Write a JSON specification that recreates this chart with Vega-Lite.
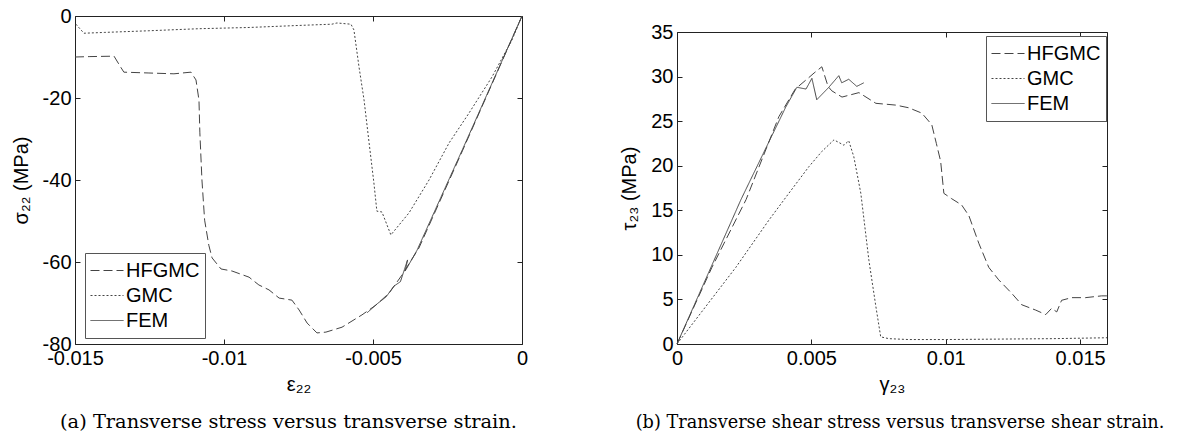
{
  "$schema": "https://vega.github.io/schema/vega-lite/v6.json",
  "background": "white",
  "padding": {"left": 11, "top": 6, "right": 0, "bottom": 0},
  "config": {
    "font": "Liberation Sans",
    "view": {"stroke": null},
    "axis": {
      "domainColor": "#222", "tickColor": "#222", "domainWidth": 1, "tickWidth": 1,
      "tickSize": -5, "labelPadding": 9, "grid": false,
      "labelFont": "Liberation Sans", "labelFontSize": 20, "labelColor": "#000",
      "labelFlush": false, "labelOverlap": false,
      "titleFont": "Liberation Sans", "titleFontSize": 20, "titleFontWeight": "normal", "titleColor": "#000"
    },
    "legend": {
      "title": null, "orient": "none", "direction": "vertical",
      "symbolType": "stroke", "symbolSize": 1089, "symbolStrokeColor": "#444", "symbolStrokeWidth": 1,
      "labelFont": "Liberation Sans", "labelFontSize": 20, "labelColor": "#000", "labelOffset": 2,
      "padding": 5, "rowPadding": 0, "clipHeight": 25, "strokeColor": "#555", "fillColor": "white"
    }
  },
  "datasets": {
    "a": [
      {"model": "HFGMC", "i": 1, "x": -0.0150, "y": -10.0},
      {"model": "HFGMC", "i": 2, "x": -0.0145, "y": -9.9},
      {"model": "HFGMC", "i": 3, "x": -0.01369, "y": -9.8},
      {"model": "HFGMC", "i": 4, "x": -0.01349, "y": -12.2},
      {"model": "HFGMC", "i": 5, "x": -0.01336, "y": -13.7},
      {"model": "HFGMC", "i": 6, "x": -0.01252, "y": -13.9},
      {"model": "HFGMC", "i": 7, "x": -0.01168, "y": -14.1},
      {"model": "HFGMC", "i": 8, "x": -0.01111, "y": -13.7},
      {"model": "HFGMC", "i": 9, "x": -0.01094, "y": -15.6},
      {"model": "HFGMC", "i": 10, "x": -0.01084, "y": -20.5},
      {"model": "HFGMC", "i": 11, "x": -0.01081, "y": -28.5},
      {"model": "HFGMC", "i": 12, "x": -0.01074, "y": -40.0},
      {"model": "HFGMC", "i": 13, "x": -0.01065, "y": -49.8},
      {"model": "HFGMC", "i": 14, "x": -0.01051, "y": -55.9},
      {"model": "HFGMC", "i": 15, "x": -0.01040, "y": -59.0},
      {"model": "HFGMC", "i": 16, "x": -0.01010, "y": -61.7},
      {"model": "HFGMC", "i": 17, "x": -0.00973, "y": -62.2},
      {"model": "HFGMC", "i": 18, "x": -0.00916, "y": -63.7},
      {"model": "HFGMC", "i": 19, "x": -0.00883, "y": -65.6},
      {"model": "HFGMC", "i": 20, "x": -0.00849, "y": -66.8},
      {"model": "HFGMC", "i": 21, "x": -0.00815, "y": -68.8},
      {"model": "HFGMC", "i": 22, "x": -0.00772, "y": -69.3},
      {"model": "HFGMC", "i": 23, "x": -0.00748, "y": -71.7},
      {"model": "HFGMC", "i": 24, "x": -0.00721, "y": -74.9},
      {"model": "HFGMC", "i": 25, "x": -0.00688, "y": -77.3},
      {"model": "HFGMC", "i": 26, "x": -0.00658, "y": -77.1},
      {"model": "HFGMC", "i": 27, "x": -0.00604, "y": -75.9},
      {"model": "HFGMC", "i": 28, "x": -0.00537, "y": -72.9},
      {"model": "HFGMC", "i": 29, "x": -0.00490, "y": -70.5},
      {"model": "HFGMC", "i": 30, "x": -0.00446, "y": -67.6},
      {"model": "HFGMC", "i": 31, "x": -0.00403, "y": -63.2},
      {"model": "HFGMC", "i": 32, "x": -0.00346, "y": -56.6},
      {"model": "HFGMC", "i": 33, "x": -0.00200, "y": -32.9},
      {"model": "HFGMC", "i": 34, "x": 0.0, "y": 0.0},
      {"model": "GMC", "i": 1, "x": -0.01497, "y": -2.0},
      {"model": "GMC", "i": 2, "x": -0.01470, "y": -4.2},
      {"model": "GMC", "i": 3, "x": -0.01400, "y": -4.0},
      {"model": "GMC", "i": 4, "x": -0.01252, "y": -3.6},
      {"model": "GMC", "i": 5, "x": -0.01084, "y": -3.1},
      {"model": "GMC", "i": 6, "x": -0.00916, "y": -2.8},
      {"model": "GMC", "i": 7, "x": -0.00748, "y": -2.3},
      {"model": "GMC", "i": 8, "x": -0.00638, "y": -2.0},
      {"model": "GMC", "i": 9, "x": -0.00621, "y": -1.7},
      {"model": "GMC", "i": 10, "x": -0.00574, "y": -2.0},
      {"model": "GMC", "i": 11, "x": -0.00564, "y": -3.4},
      {"model": "GMC", "i": 12, "x": -0.00547, "y": -12.4},
      {"model": "GMC", "i": 13, "x": -0.00530, "y": -20.5},
      {"model": "GMC", "i": 14, "x": -0.00513, "y": -31.0},
      {"model": "GMC", "i": 15, "x": -0.00497, "y": -40.7},
      {"model": "GMC", "i": 16, "x": -0.00487, "y": -47.6},
      {"model": "GMC", "i": 17, "x": -0.00470, "y": -47.8},
      {"model": "GMC", "i": 18, "x": -0.00440, "y": -53.4},
      {"model": "GMC", "i": 19, "x": -0.00379, "y": -48.0},
      {"model": "GMC", "i": 20, "x": -0.00312, "y": -40.0},
      {"model": "GMC", "i": 21, "x": -0.00245, "y": -31.0},
      {"model": "GMC", "i": 22, "x": -0.00178, "y": -23.7},
      {"model": "GMC", "i": 23, "x": -0.00101, "y": -14.9},
      {"model": "GMC", "i": 24, "x": -0.00034, "y": -5.9},
      {"model": "GMC", "i": 25, "x": 0.0, "y": 0.0},
      {"model": "FEM", "i": 1, "x": 0.0, "y": 0.0},
      {"model": "FEM", "i": 2, "x": -0.00200, "y": -32.6},
      {"model": "FEM", "i": 3, "x": -0.00352, "y": -57.1},
      {"model": "FEM", "i": 4, "x": -0.00392, "y": -62.2},
      {"model": "FEM", "i": 5, "x": -0.00384, "y": -59.5},
      {"model": "FEM", "i": 6, "x": -0.00408, "y": -64.8},
      {"model": "FEM", "i": 7, "x": -0.00430, "y": -65.9},
      {"model": "FEM", "i": 8, "x": -0.00456, "y": -68.5},
      {"model": "FEM", "i": 9, "x": -0.00486, "y": -70.2},
      {"model": "FEM", "i": 10, "x": -0.00520, "y": -72.4}
    ],
    "b": [
      {"model": "HFGMC", "i": 1, "x": 0.0, "y": 0.0},
      {"model": "HFGMC", "i": 2, "x": 0.00130, "y": 8.6},
      {"model": "HFGMC", "i": 3, "x": 0.00257, "y": 16.2},
      {"model": "HFGMC", "i": 4, "x": 0.00379, "y": 25.5},
      {"model": "HFGMC", "i": 5, "x": 0.00440, "y": 28.6},
      {"model": "HFGMC", "i": 6, "x": 0.00491, "y": 29.9},
      {"model": "HFGMC", "i": 7, "x": 0.00510, "y": 30.4},
      {"model": "HFGMC", "i": 8, "x": 0.00539, "y": 31.1},
      {"model": "HFGMC", "i": 9, "x": 0.00562, "y": 28.9},
      {"model": "HFGMC", "i": 10, "x": 0.00576, "y": 28.4},
      {"model": "HFGMC", "i": 11, "x": 0.00614, "y": 27.7},
      {"model": "HFGMC", "i": 12, "x": 0.00677, "y": 28.2},
      {"model": "HFGMC", "i": 13, "x": 0.00740, "y": 27.0},
      {"model": "HFGMC", "i": 14, "x": 0.00814, "y": 26.8},
      {"model": "HFGMC", "i": 15, "x": 0.00862, "y": 26.5},
      {"model": "HFGMC", "i": 16, "x": 0.00911, "y": 25.9},
      {"model": "HFGMC", "i": 17, "x": 0.00948, "y": 24.6},
      {"model": "HFGMC", "i": 18, "x": 0.00965, "y": 22.5},
      {"model": "HFGMC", "i": 19, "x": 0.00981, "y": 20.5},
      {"model": "HFGMC", "i": 20, "x": 0.00993, "y": 16.9},
      {"model": "HFGMC", "i": 21, "x": 0.01022, "y": 16.3},
      {"model": "HFGMC", "i": 22, "x": 0.01059, "y": 15.6},
      {"model": "HFGMC", "i": 23, "x": 0.01086, "y": 14.4},
      {"model": "HFGMC", "i": 24, "x": 0.01123, "y": 11.3},
      {"model": "HFGMC", "i": 25, "x": 0.01160, "y": 8.6},
      {"model": "HFGMC", "i": 26, "x": 0.01197, "y": 7.2},
      {"model": "HFGMC", "i": 27, "x": 0.01245, "y": 5.7},
      {"model": "HFGMC", "i": 28, "x": 0.01283, "y": 4.4},
      {"model": "HFGMC", "i": 29, "x": 0.01335, "y": 3.8},
      {"model": "HFGMC", "i": 30, "x": 0.01372, "y": 3.3},
      {"model": "HFGMC", "i": 31, "x": 0.01394, "y": 4.0},
      {"model": "HFGMC", "i": 32, "x": 0.01413, "y": 3.6},
      {"model": "HFGMC", "i": 33, "x": 0.01431, "y": 4.9},
      {"model": "HFGMC", "i": 34, "x": 0.01468, "y": 5.2},
      {"model": "HFGMC", "i": 35, "x": 0.01520, "y": 5.2},
      {"model": "HFGMC", "i": 36, "x": 0.01580, "y": 5.4},
      {"model": "HFGMC", "i": 37, "x": 0.01600, "y": 5.4},
      {"model": "GMC", "i": 1, "x": 0.0, "y": 0.0},
      {"model": "GMC", "i": 2, "x": 0.00219, "y": 8.6},
      {"model": "GMC", "i": 3, "x": 0.00342, "y": 13.9},
      {"model": "GMC", "i": 4, "x": 0.00416, "y": 16.9},
      {"model": "GMC", "i": 5, "x": 0.00491, "y": 19.9},
      {"model": "GMC", "i": 6, "x": 0.00539, "y": 21.6},
      {"model": "GMC", "i": 7, "x": 0.00584, "y": 22.9},
      {"model": "GMC", "i": 8, "x": 0.00621, "y": 22.3},
      {"model": "GMC", "i": 9, "x": 0.00639, "y": 22.8},
      {"model": "GMC", "i": 10, "x": 0.00658, "y": 21.0},
      {"model": "GMC", "i": 11, "x": 0.00684, "y": 16.9},
      {"model": "GMC", "i": 12, "x": 0.00714, "y": 9.4},
      {"model": "GMC", "i": 13, "x": 0.00740, "y": 4.2},
      {"model": "GMC", "i": 14, "x": 0.00758, "y": 0.8},
      {"model": "GMC", "i": 15, "x": 0.00788, "y": 0.6},
      {"model": "GMC", "i": 16, "x": 0.00862, "y": 0.5},
      {"model": "GMC", "i": 17, "x": 0.01000, "y": 0.5},
      {"model": "GMC", "i": 18, "x": 0.01200, "y": 0.55},
      {"model": "GMC", "i": 19, "x": 0.01400, "y": 0.6},
      {"model": "GMC", "i": 20, "x": 0.01600, "y": 0.7},
      {"model": "FEM", "i": 1, "x": 0.0, "y": 0.0},
      {"model": "FEM", "i": 2, "x": 0.00238, "y": 16.2},
      {"model": "FEM", "i": 3, "x": 0.00405, "y": 26.6},
      {"model": "FEM", "i": 4, "x": 0.00446, "y": 28.8},
      {"model": "FEM", "i": 5, "x": 0.00480, "y": 28.6},
      {"model": "FEM", "i": 6, "x": 0.00502, "y": 29.8},
      {"model": "FEM", "i": 7, "x": 0.00520, "y": 27.4},
      {"model": "FEM", "i": 8, "x": 0.00565, "y": 28.8},
      {"model": "FEM", "i": 9, "x": 0.00602, "y": 30.1},
      {"model": "FEM", "i": 10, "x": 0.00613, "y": 29.3},
      {"model": "FEM", "i": 11, "x": 0.00639, "y": 29.7},
      {"model": "FEM", "i": 12, "x": 0.00669, "y": 28.9},
      {"model": "FEM", "i": 13, "x": 0.00695, "y": 29.3}
    ]
  },
  "bounds": "flush",
  "spacing": 155,
  "resolve": {"scale": {"strokeDash": "independent"}, "legend": {"strokeDash": "independent"}},
  "hconcat": [
    {
      "width": 447,
      "height": 328,
      "data": {"name": "a"},
      "title": {
        "text": "(a)  Transverse stress versus transverse strain.",
        "orient": "bottom", "anchor": "middle", "frame": "group", "dx": -10, "offset": 19,
        "font": "DejaVu Serif", "fontSize": 19.4, "fontWeight": "normal", "color": "#000"
      },
      "layer": [
        {
          "mark": {"type": "line", "color": "#444", "strokeWidth": 1},
          "encoding": {
            "x": {
              "field": "x", "type": "quantitative",
              "scale": {"domain": [-0.015, 0], "nice": false, "zero": false},
              "axis": {"orient": "bottom", "values": [-0.015, -0.01, -0.005, 0], "labelExpr": "toString(datum.value)", "title": "ε₂₂", "titlePadding": 6}
            },
            "y": {
              "field": "y", "type": "quantitative",
              "scale": {"domain": [-80, 0], "nice": false, "zero": false},
              "axis": {"orient": "left", "values": [-80, -60, -40, -20, 0], "labelExpr": "toString(datum.value)", "title": "σ₂₂ (MPa)", "titlePadding": 11}
            },
            "strokeDash": {
              "field": "model", "type": "nominal",
              "scale": {"domain": ["HFGMC", "GMC", "FEM"], "range": [[9, 4], [2, 2], [1, 0]]},
              "legend": {"legendX": 10, "legendY": 237}
            },
            "order": {"field": "i", "type": "quantitative"}
          }
        },
        {
          "mark": {"type": "point", "opacity": 0},
          "encoding": {
            "x": {"field": "x", "type": "quantitative", "axis": {"orient": "top", "labels": false, "title": null, "values": [-0.015, -0.01, -0.005, 0]}},
            "y": {"field": "y", "type": "quantitative", "axis": {"orient": "right", "labels": false, "title": null, "values": [-80, -60, -40, -20, 0]}}
          }
        }
      ],
      "resolve": {"axis": {"x": "independent", "y": "independent"}}
    },
    {
      "bounds": "flush",
      "spacing": 15,
      "vconcat": [
        {
          "width": 430,
          "height": 1,
          "data": {"values": [{}]},
          "mark": {"type": "point", "opacity": 0, "size": 1}
        },
        {
          "width": 430,
          "height": 312,
          "data": {"name": "b"},
          "title": {
            "text": "(b)  Transverse shear stress versus transverse shear strain.",
            "orient": "bottom", "anchor": "middle", "frame": "group", "dx": 8, "offset": 20,
            "font": "DejaVu Serif", "fontSize": 17.7, "fontWeight": "normal", "color": "#000"
          },
          "layer": [
            {
              "mark": {"type": "line", "color": "#444", "strokeWidth": 1},
              "encoding": {
                "x": {
                  "field": "x", "type": "quantitative",
                  "scale": {"domain": [0, 0.016], "nice": false, "zero": false},
                  "axis": {"orient": "bottom", "values": [0, 0.005, 0.01, 0.015], "labelExpr": "toString(datum.value)", "title": "γ₂₃", "titlePadding": 6}
                },
                "y": {
                  "field": "y", "type": "quantitative",
                  "scale": {"domain": [0, 35], "nice": false, "zero": false},
                  "axis": {"orient": "left", "values": [0, 5, 10, 15, 20, 25, 30, 35], "labelExpr": "toString(datum.value)", "title": "τ₂₃ (MPa)", "titlePadding": 11}
                },
                "strokeDash": {
                  "field": "model", "type": "nominal",
                  "scale": {"domain": ["HFGMC", "GMC", "FEM"], "range": [[9, 4], [2, 2], [1, 0]]},
                  "legend": {"legendX": 309, "legendY": 20}
                },
                "order": {"field": "i", "type": "quantitative"}
              }
            },
            {
              "mark": {"type": "point", "opacity": 0},
              "encoding": {
                "x": {"field": "x", "type": "quantitative", "axis": {"orient": "top", "labels": false, "title": null, "values": [0, 0.005, 0.01, 0.015]}},
                "y": {"field": "y", "type": "quantitative", "axis": {"orient": "right", "labels": false, "title": null, "values": [0, 5, 10, 15, 20, 25, 30, 35]}}
              }
            }
          ],
          "resolve": {"axis": {"x": "independent", "y": "independent"}}
        }
      ]
    }
  ]
}
